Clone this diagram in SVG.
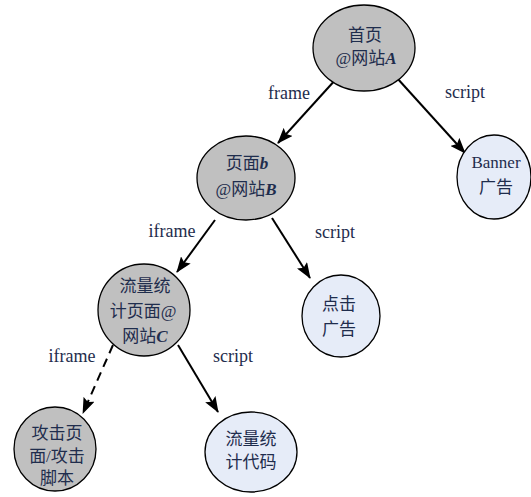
<svg xmlns="http://www.w3.org/2000/svg" width="531" height="497" viewBox="0 0 531 497">
<style>
.g{fill:#c0c0c0;stroke:#000;stroke-width:1.3}
.b{fill:#e6ecf8;stroke:#000;stroke-width:1.3}
.t{font-family:"Liberation Serif","Noto Sans CJK SC",serif;font-size:17px;fill:#1f2d4d;text-anchor:middle}
.l{font-family:"Liberation Serif",serif;font-size:18px;fill:#1f2d4d;text-anchor:middle}
.e{stroke:#000;stroke-width:2;fill:none;marker-end:url(#ah)}
.i{font-style:italic;font-weight:bold}
</style>
<defs>
<marker id="ah" viewBox="0 0 16 12" refX="15" refY="6" markerWidth="16" markerHeight="12" markerUnits="userSpaceOnUse" orient="auto">
<path d="M0,0 L16,6 L0,12 L3,6 Z" fill="#000"/>
</marker>
</defs>
<rect width="531" height="497" fill="#fff"/>
<g id="edges">
<line class="e" x1="337" y1="78" x2="278" y2="143"/>
<line class="e" x1="397" y1="78" x2="465" y2="153"/>
<line class="e" x1="215" y1="220" x2="177" y2="272"/>
<line class="e" x1="272" y1="218" x2="310" y2="278"/>
<line class="e" x1="113" y1="345" x2="83" y2="413" stroke-dasharray="9,6"/>
<line class="e" x1="178" y1="345" x2="218" y2="412"/>
<text class="l" x="289" y="99">frame</text>
<text class="l" x="465" y="98">script</text>
<text class="l" x="172" y="237">iframe</text>
<text class="l" x="335" y="238">script</text>
<text class="l" x="72" y="362">iframe</text>
<text class="l" x="233" y="362">script</text>
</g>
<g id="nodeA">
<ellipse class="g" cx="364" cy="48" rx="51" ry="43"/>
<text class="t" x="365" y="41">首页</text>
<text class="t" x="366" y="64">@网站<tspan class="i">A</tspan></text>
</g>
<g id="nodeB">
<ellipse class="g" cx="246" cy="178" rx="49" ry="42"/>
<text class="t" x="247" y="169">页面<tspan class="i">b</tspan></text>
<text class="t" x="246" y="195">@网站<tspan class="i">B</tspan></text>
</g>
<g id="nodeG">
<ellipse class="b" cx="494" cy="177" rx="37" ry="42"/>
<text class="t" x="496" y="168">Banner</text>
<text class="t" x="496" y="193">广告</text>
</g>
<g id="nodeC">
<ellipse class="g" cx="144" cy="310" rx="46" ry="46"/>
<text class="t" x="145" y="292">流量统</text>
<text class="t" x="143" y="317">计页面@</text>
<text class="t" x="145" y="342">网站<tspan class="i">C</tspan></text>
</g>
<g id="nodeF">
<ellipse class="b" cx="341" cy="316" rx="39" ry="41"/>
<text class="t" x="339" y="310">点击</text>
<text class="t" x="339" y="335">广告</text>
</g>
<g id="nodeD">
<ellipse class="g" cx="55" cy="449" rx="41" ry="42"/>
<text class="t" x="57" y="439">攻击页</text>
<text class="t" x="57" y="462">面/攻击</text>
<text class="t" x="57" y="484">脚本</text>
</g>
<g id="nodeE">
<ellipse class="b" cx="251" cy="452" rx="46" ry="40"/>
<text class="t" x="251" y="445">流量统</text>
<text class="t" x="251" y="468">计代码</text>
</g>
</svg>
